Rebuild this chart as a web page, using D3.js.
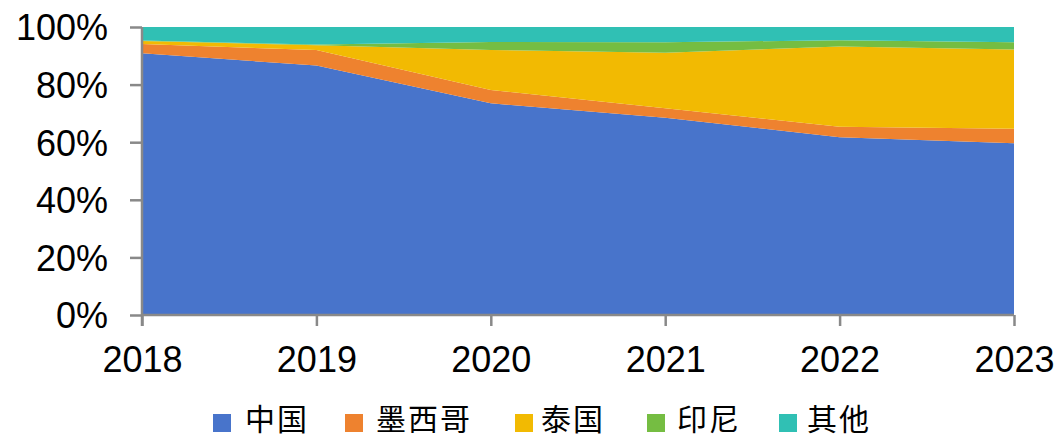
<!DOCTYPE html>
<html><head><meta charset="utf-8">
<script src="https://cdn.jsdelivr.net/npm/d3@7"></script>
<style>body{margin:0;background:#fff}svg{display:block}</style>
</head><body>
<svg id="c" width="1058" height="439"></svg>
<script>
const years = ["2018","2019","2020","2021","2022","2023"];
const seriesNames = ["中国","墨西哥","泰国","印尼","其他"];
const china     = [90.9, 86.6, 73.5, 68.5, 61.7, 59.6];
const mexico    = [3.2, 5.4, 4.6, 3.3, 3.7, 5.1];
const thailand  = [1.0, 1.7, 13.9, 19.3, 27.8, 27.5];
const indonesia = [0.2, 0.2, 2.8, 3.6, 2.2, 2.5];
const others    = [4.7, 6.1, 5.2, 5.3, 4.6, 5.3];
const yTicks = [0,20,40,60,80,100];
const colors = ["#4874CB","#EE822F","#F2BA02","#75BD42","#30C0B4"];

const rows = years.map((y,i)=>({year:y, "中国":china[i], "墨西哥":mexico[i], "泰国":thailand[i], "印尼":indonesia[i], "其他":others[i]}));
const stack = d3.stack().keys(seriesNames)(rows);

const svg = d3.select("#c");
const x = d3.scalePoint().domain(years).range([142,1014]);
const y = d3.scaleLinear().domain([0,100]).range([315,27]);

const area = d3.area().x(d=>x(d.data.year)).y0(d=>y(d[0])).y1(d=>y(Math.min(100,d[1])));
svg.append("g").selectAll("path").data(stack).join("path")
  .attr("d",area).attr("fill",(d,i)=>colors[i]);

const font = "'Liberation Sans', Arial, sans-serif";
// y axis
const ya = svg.append("g").attr("transform","translate(142,0)")
  .call(d3.axisLeft(y).tickValues(yTicks).tickFormat(d=>d+"%").tickSize(12).tickPadding(22));
ya.select(".domain").attr("stroke","#898989").attr("stroke-width",2.5).attr("d","M0,27V326");
ya.selectAll(".tick line").attr("stroke","#898989").attr("stroke-width",2.5);
ya.selectAll(".tick text").attr("font-family",font).attr("font-size",36).attr("fill","#000").attr("dy","0.36em");
// x axis
const xa = svg.append("g").attr("transform","translate(0,315)")
  .call(d3.axisBottom(x).tickSize(11).tickPadding(20));
xa.select(".domain").attr("stroke","#898989").attr("stroke-width",2.5).attr("d","M142,0H1014");
xa.selectAll(".tick line").attr("stroke","#898989").attr("stroke-width",2.5);
xa.selectAll(".tick text").attr("font-family",font).attr("font-size",36).attr("fill","#000");

// legend
const legX = [213,345,515,647,779];
const txtX = [245,376,541,677,807];
const lg = svg.append("g");
seriesNames.forEach((n,i)=>{
  lg.append("rect").attr("x",legX[i]).attr("y",414).attr("width",18).attr("height",18).attr("fill",colors[i]);
  lg.append("text").attr("x",txtX[i]).attr("y",430).attr("font-family","'Noto Sans CJK SC', sans-serif")
    .attr("font-size",30).attr("fill","#000").attr("letter-spacing",2).text(n);
});
</script>
</body></html>
